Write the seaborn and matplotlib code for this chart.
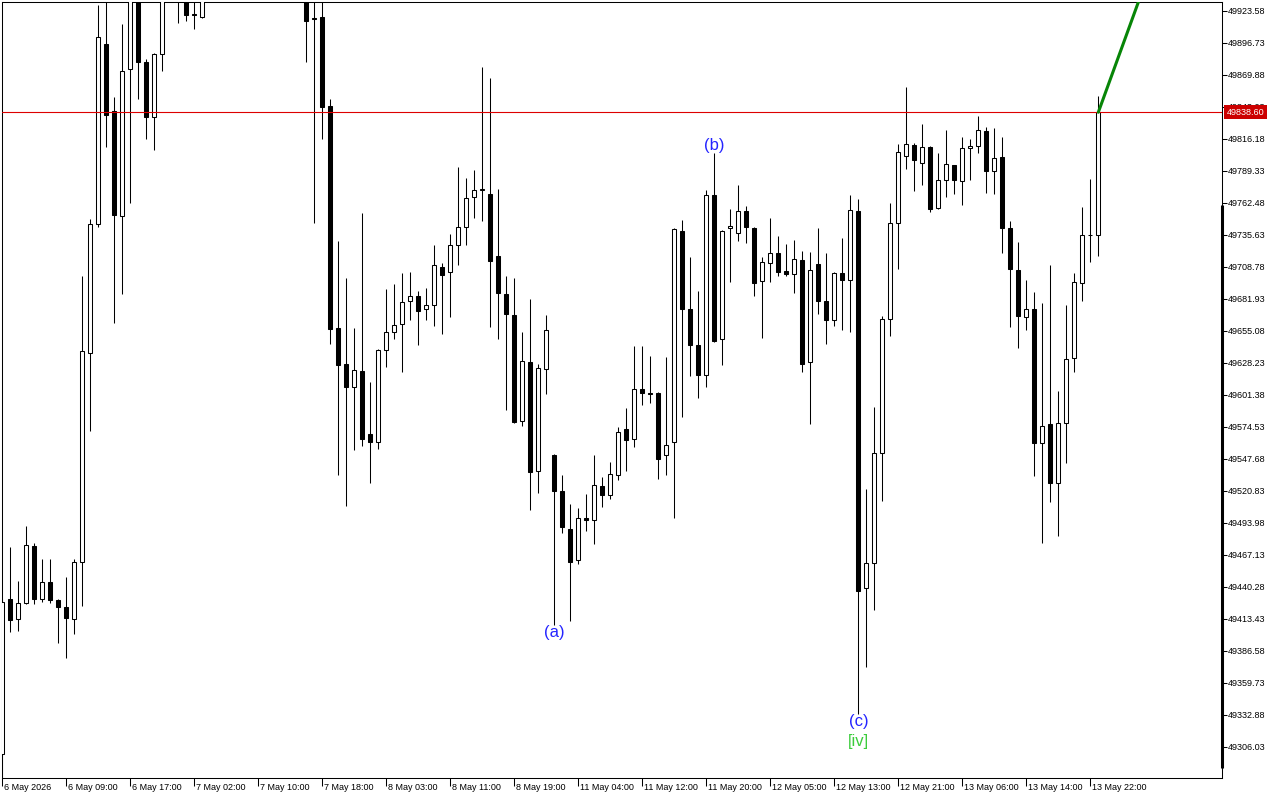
import matplotlib
matplotlib.use("Agg")
import matplotlib.pyplot as plt
import matplotlib.transforms as mtransforms
import numpy as np
import pandas as pd
import seaborn as sns

# H1 bars, 6 May 01:00 .. 13 May 23:00 (index = bar number)
opens = [
    49300.00, 49430.21, 49413.18, 49426.60, 49474.43, 49429.96, 49444.23, 49429.12, 49423.25, 49413.18,
    49461.01, 49636.37, 49744.61, 49895.89, 49839.67, 49751.82, 49874.66, 49945.40, 49880.54, 49834.89,
    49887.25, 49948.00, 49962.00, 49945.00, 49920.64, 49918.29, 49946.00, 49962.00, 49984.00, 49971.00,
    49956.00, 49974.00, 49999.00, 49987.00, 49966.00, 49978.00, 49962.00, 49969.00, 49951.00, 49917.50,
    49918.55, 49843.62, 49657.35, 49627.39, 49608.34, 49621.52, 49568.66, 49562.20, 49638.88, 49653.99,
    49660.70, 49680.00, 49684.20, 49673.29, 49676.64, 49708.53, 49704.33, 49726.99, 49742.09, 49767.26,
    49773.64, 49769.78, 49717.76, 49686.13, 49668.25, 49579.31, 49628.82, 49537.36, 49622.94, 49550.79,
    49520.58, 49488.70, 49462.68, 49497.76, 49496.25, 49524.77, 49517.23, 49534.01, 49572.60, 49564.21,
    49606.16, 49602.81, 49602.81, 49550.79, 49561.69, 49738.74, 49673.29, 49643.08, 49617.91, 49768.94,
    49648.12, 49741.25, 49737.06, 49755.52, 49741.25, 49696.78, 49711.89, 49720.28, 49705.17, 49702.66,
    49714.65, 49628.65, 49711.21, 49680.59, 49664.56, 49703.66, 49697.54, 49756.02, 49439.53, 49460.08,
    49552.46, 49665.49, 49746.04, 49801.67, 49810.90, 49795.79, 49809.22, 49758.03, 49781.53, 49794.12,
    49780.69, 49808.38, 49810.06, 49822.64, 49789.08, 49800.83, 49741.25, 49706.01, 49666.58, 49673.29,
    49560.86, 49576.80, 49527.29, 49577.64, 49632.18, 49695.10, 49735.38, 49735.38,
]
highs = [
    49430.00, 49473.84, 49445.32, 49491.46, 49477.20, 49463.78, 49463.78, 49429.96, 49448.67, 49463.52,
    49701.23, 49749.06, 49928.61, 49935.33, 49851.42, 49912.67, 49957.98, 49966.37, 49883.05, 49888.34,
    49966.37, 49975.00, 49985.00, 49968.00, 49940.00, 49952.00, 49970.00, 49991.00, 49998.00, 49982.00,
    49979.00, 50006.00, 50012.00, 49995.00, 49984.00, 49990.00, 49976.00, 49981.00, 49963.00, 49944.00,
    49936.00, 49849.74, 49730.60, 49699.55, 49657.60, 49754.09, 49612.29, 49639.98, 49690.32, 49694.52,
    49703.75, 49704.59, 49688.64, 49690.91, 49727.24, 49711.89, 49736.47, 49792.69, 49783.46, 49790.17,
    49876.59, 49867.36, 49773.98, 49701.23, 49699.30, 49654.24, 49681.68, 49627.14, 49668.51, 49551.46,
    49534.01, 49509.67, 49506.32, 49518.06, 49550.79, 49532.33, 49544.91, 49574.28, 49590.22, 49642.24,
    49642.24, 49633.85, 49603.48, 49633.01, 49741.25, 49747.97, 49716.92, 49688.39, 49773.14, 49804.18,
    49739.41, 49757.19, 49777.33, 49759.71, 49741.92, 49716.92, 49749.64, 49734.54, 49727.83, 49731.18,
    49721.79, 49721.53, 49741.76, 49720.61, 49704.17, 49732.69, 49769.03, 49765.75, 49522.17, 49590.98,
    49667.58, 49762.06, 49811.73, 49859.81, 49812.57, 49828.77, 49810.06, 49804.18, 49823.48, 49794.37,
    49817.61, 49815.93, 49835.23, 49826.00, 49825.16, 49817.61, 49747.13, 49729.51, 49697.62, 49687.55,
    49678.32, 49710.21, 49604.49, 49676.64, 49703.49, 49758.87, 49782.37, 49852.26,
]
lows = [
    49275.00, 49402.78, 49403.62, 49425.77, 49425.77, 49427.45, 49426.60, 49393.04, 49380.46, 49400.60,
    49424.59, 49571.43, 49742.60, 49809.72, 49662.04, 49686.38, 49762.73, 49849.99, 49816.43, 49806.95,
    49873.49, 49938.00, 49913.76, 49915.44, 49908.73, 49917.54, 49939.00, 49955.00, 49966.00, 49950.00,
    49945.00, 49968.00, 49981.00, 49961.00, 49953.00, 49957.00, 49947.00, 49943.00, 49881.04, 49745.95,
    49816.43, 49644.42, 49534.51, 49508.50, 49555.48, 49558.84, 49527.80, 49556.32, 49625.13, 49648.62,
    49620.93, 49664.06, 49643.08, 49664.06, 49659.02, 49652.31, 49667.08, 49710.71, 49727.49, 49750.15,
    49747.63, 49658.18, 49648.12, 49588.54, 49577.64, 49575.12, 49504.64, 49518.90, 49601.97, 49408.40,
    49485.34, 49411.50, 49459.33, 49487.02, 49476.11, 49507.15, 49513.87, 49529.81, 49537.36, 49557.50,
    49592.74, 49594.92, 49530.65, 49534.01, 49497.92, 49582.67, 49617.07, 49598.61, 49607.84, 49645.60,
    49626.30, 49695.94, 49730.34, 49728.67, 49684.20, 49648.96, 49695.94, 49700.98, 49700.98, 49686.71,
    49620.68, 49576.71, 49669.43, 49643.92, 49659.11, 49655.75, 49653.99, 49334.00, 49373.49, 49421.32,
    49512.78, 49650.89, 49706.68, 49790.76, 49772.30, 49777.33, 49754.68, 49757.19, 49767.26, 49769.78,
    49760.55, 49781.53, 49804.18, 49770.62, 49769.78, 49720.78, 49658.69, 49640.57, 49655.67, 49533.17,
    49476.95, 49511.85, 49482.82, 49544.07, 49620.43, 49680.00, 49712.73, 49718.01,
]
closes = [
    49427.70, 49412.59, 49426.60, 49475.52, 49429.96, 49444.23, 49429.12, 49423.25, 49414.02, 49461.01,
    49638.30, 49744.61, 49901.51, 49836.57, 49752.66, 49872.99, 49941.20, 49881.04, 49834.89, 49887.25,
    49949.59, 49962.00, 49945.00, 49920.48, 49919.80, 49946.00, 49962.00, 49984.00, 49971.00, 49956.00,
    49974.00, 49999.00, 49987.00, 49966.00, 49978.00, 49962.00, 49969.00, 49952.00, 49915.44, 49916.87,
    49843.28, 49657.01, 49626.80, 49608.34, 49622.36, 49564.72, 49562.20, 49638.88, 49653.99, 49659.86,
    49679.16, 49684.20, 49671.61, 49676.64, 49710.21, 49701.82, 49726.99, 49742.09, 49766.42, 49773.14,
    49774.23, 49713.56, 49686.71, 49669.09, 49578.48, 49629.66, 49536.52, 49623.78, 49655.67, 49520.58,
    49490.38, 49461.01, 49497.92, 49496.50, 49525.61, 49517.23, 49534.85, 49570.08, 49563.37, 49606.16,
    49602.81, 49602.56, 49547.43, 49559.18, 49740.41, 49673.29, 49643.08, 49617.91, 49768.94, 49646.94,
    49738.74, 49742.93, 49755.52, 49742.09, 49695.10, 49712.73, 49720.28, 49704.33, 49702.66, 49715.24,
    49626.97, 49706.01, 49680.34, 49664.23, 49703.33, 49698.21, 49756.94, 49437.09, 49460.08, 49552.46,
    49665.15, 49746.04, 49805.02, 49811.73, 49798.31, 49809.22, 49757.19, 49781.53, 49794.95, 49781.53,
    49808.38, 49810.06, 49823.48, 49789.08, 49799.99, 49741.25, 49706.85, 49667.42, 49673.29, 49560.86,
    49575.12, 49527.29, 49577.64, 49631.34, 49695.94, 49735.38, 49735.63, 49838.60,
]

time_labels = [
    "6 May 2026", "6 May 09:00", "6 May 17:00", "7 May 02:00", "7 May 10:00", "7 May 18:00",
    "8 May 03:00", "8 May 11:00", "8 May 19:00", "11 May 04:00", "11 May 12:00", "11 May 20:00",
    "12 May 05:00", "12 May 13:00", "12 May 21:00", "13 May 06:00", "13 May 14:00", "13 May 22:00",
]
price_ticks = [
    49306.03, 49332.88, 49359.73, 49386.58, 49413.43, 49440.28, 49467.13, 49493.98,
    49520.83, 49547.68, 49574.53, 49601.38, 49628.23, 49655.08, 49681.93, 49708.78,
    49735.63, 49762.48, 49789.33, 49816.18, 49843.03, 49869.88, 49896.73, 49923.58,
]
last_price = 49838.60

# projected move drawn from the last close
proj_bars = [137, 145]
proj_prices = [49838.60, 49986.30]

wave_text = ["(a)", "(b)", "(c)", "[iv]"]
wave_bar = [69, 89, 107, 107]
wave_side = ["low", "high", "low", "low"]
wave_color = ["#2424ff", "#2424ff", "#2424ff", "#3ccc3c"]


def main() -> None:
    sns.set_theme(style="white")
    plt.rcParams["font.family"] = ["Liberation Sans", "DejaVu Sans"]

    bars = pd.DataFrame({"open": opens, "high": highs, "low": lows, "close": closes})
    bars["idx"] = np.arange(len(bars))
    up = bars["close"] >= bars["open"]

    fig = plt.figure(figsize=(12.8, 8), dpi=100)
    fig.patch.set_facecolor("white")
    ax = fig.add_axes([2 / 1280, 22 / 800, 1220 / 1280, 776 / 800])
    ax.set_facecolor("white")

    ax.vlines(bars["idx"], bars["low"], bars["high"], color="black", linewidth=0.75, zorder=2)
    body_bottom = bars[["open", "close"]].min(axis=1)
    body_height = (bars["close"] - bars["open"]).abs().clip(lower=0.3)
    ax.bar(
        bars["idx"],
        body_height,
        bottom=body_bottom,
        width=0.5,
        color=np.where(up, "white", "black"),
        edgecolor="black",
        linewidth=0.75,
        zorder=3,
    )

    ax.axhline(last_price, color="#dd0000", linewidth=0.8, zorder=4)
    sns.lineplot(x=proj_bars, y=proj_prices, color="#078507", linewidth=2.2, ax=ax, zorder=5)

    for text, bar, side, color in zip(wave_text, wave_bar, wave_side, wave_color):
        if side == "high":
            ax.annotate(text, xy=(bar, highs[bar]), xytext=(0, 0), textcoords="offset points",
                        ha="center", va="bottom", fontsize=12, color=color, zorder=6)
        else:
            dy = -15 if text.startswith("[") else 0
            ax.annotate(text, xy=(bar, lows[bar]), xytext=(0, dy), textcoords="offset points",
                        ha="center", va="top", fontsize=12, color=color, zorder=6)

    ax.set_xlim(-0.04, 152.46)
    ax.set_ylim(49280.0, 49931.1)

    ax.yaxis.tick_right()
    ax.set_yticks(price_ticks, [f"{v:.2f}" for v in price_ticks])
    ax.set_xticks(np.arange(len(time_labels)) * 8, time_labels, ha="left")
    ax.tick_params(axis="y", right=True, left=False, direction="out", length=3.5, width=0.75,
                   pad=1, labelsize=6.5, colors="black")
    ax.tick_params(axis="x", bottom=True, direction="out", length=5.8, width=0.75,
                   pad=-2.2, labelsize=6.5, colors="black")
    shift = mtransforms.ScaledTranslation(2 / 100, 0, fig.dpi_scale_trans)
    for label in ax.get_xticklabels():
        label.set_transform(label.get_transform() + shift)
    ax.grid(False)
    for spine in ax.spines.values():
        spine.set_color("black")
        spine.set_linewidth(0.75)

    # thick segment on the right border
    ax.plot([1, 1], [0.0129, 0.738], transform=ax.transAxes, color="black", linewidth=2.2,
            solid_capstyle="butt", clip_on=False, zorder=7)

    # current price tag sits over the axis labels, as in the terminal
    trans = mtransforms.blended_transform_factory(ax.transAxes, ax.transData)
    ax.text(1.0037, last_price, f"{last_price:.2f}", transform=trans, ha="left", va="center",
            fontsize=6.5, color="white", clip_on=False, zorder=10,
            bbox=dict(boxstyle="square,pad=0.3", facecolor="#cc0000", edgecolor="none"))

    fig.savefig("out.png", dpi=100)
    plt.close(fig)


if __name__ == "__main__":
    main()
